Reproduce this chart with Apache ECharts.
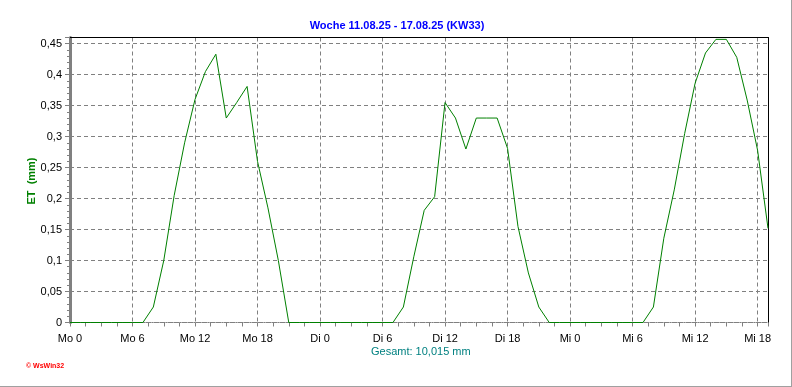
<!DOCTYPE html>
<html>
<head>
<meta charset="utf-8">
<script src="https://cdn.jsdelivr.net/npm/echarts@6/dist/echarts.min.js"></script>
<style>
html,body{margin:0;padding:0;background:#fff;}
#c{width:792px;height:387px;}
</style>
</head>
<body>
<div id="c"></div>
<script>
// Hours since Monday 0:00
var hours = [0,1,2,3,4,5,6,7,8,9,10,11,12,13,14,15,16,17,18,19,20,21,22,23,
  24,25,26,27,28,29,30,31,32,33,34,35,36,37,38,39,40,41,42,43,44,45,46,47,
  48,49,50,51,52,53,54,55,56,57,58,59,60,61,62,63,64,65,66,67];
// ET values (mm)
var etValues = [0,0,0,0,0,0,0,0,0.025,0.1,0.205,0.29,0.36,0.405,0.433,0.33,0.355,0.381,0.26,0.185,0.1,0,0,0,
  0,0,0,0,0,0,0,0,0.025,0.106,0.181,0.203,0.355,0.33,0.28,0.33,0.33,0.33,0.281,0.155,0.08,0.025,0,0,
  0,0,0,0,0,0,0,0,0.025,0.136,0.214,0.305,0.386,0.435,0.457,0.457,0.428,0.359,0.278,0.152];
var dayNames = ['Mo','Di','Mi','Do','Fr','Sa','So'];
var titleText = 'Woche 11.08.25 - 17.08.25 (KW33)';
var totalText = 'Gesamt: 10,015 mm';
var yAxisTitle = 'ET  (mm)';

var data = hours.map(function(h,i){ return [h, etValues[i]]; });
var FONT = '"Liberation Sans", Arial, sans-serif';

var chart = echarts.init(document.getElementById('c'));
chart.setOption({
  animation:false,
  backgroundColor:'#ffffff',
  title:{
    text:titleText, left:392, top:15, textAlign:'center',
    textStyle:{color:'#0000ff', fontSize:11, fontWeight:'bold', fontFamily:FONT}
  },
  grid:{left:70, right:24, top:37.5, bottom:64.5},
  xAxis:[{
    type:'value', min:0, max:67, interval:6,
    axisLine:{show:true, lineStyle:{color:'#808080', width:1, type:'dotted'}},
    axisTick:{show:true, length:4, lineStyle:{color:'#808080'}},
    minorTick:{show:true, splitNumber:4, length:4, lineStyle:{color:'#808080'}},
    splitLine:{show:true, lineStyle:{color:'#808080', type:[4,3], width:1}},
    axisLabel:{
      color:'#000', fontSize:11, fontFamily:FONT, margin:11,
      formatter:function(v){
        if (v % 6 !== 0) return '';
        return dayNames[Math.floor(v/24)] + ' ' + (v % 24);
      }
    }
  },{
    type:'value', min:0, max:67, position:'top',
    axisLine:{show:true, onZero:false, lineStyle:{color:'#000', width:1}},
    axisTick:{show:false}, axisLabel:{show:false}, splitLine:{show:false}
  }],
  yAxis:[{
    type:'value', min:0, max:0.46, interval:0.05,
    axisLine:{show:true, lineStyle:{color:'#808080', width:3}},
    axisTick:{show:true, length:5, lineStyle:{color:'#808080'}},
    minorTick:{show:true, splitNumber:5, length:3, lineStyle:{color:'#808080'}},
    splitLine:{show:true, lineStyle:{color:'#808080', type:[4,3], width:1}},
    axisLabel:{
      color:'#000', fontSize:11, fontFamily:FONT, margin:8,
      formatter:function(v){
        var r = Math.round(v*100);
        if (r % 5 !== 0) return '';
        return String(r/100).replace('.', ',');
      }
    }
  },{
    type:'value', min:0, max:0.46, position:'right',
    axisLine:{show:true, onZero:false, lineStyle:{color:'#000', width:1}},
    axisTick:{show:false}, axisLabel:{show:false}, splitLine:{show:false}
  }],
  series:[{
    type:'line', data:data, showSymbol:false, clip:false,
    lineStyle:{color:'#008000', width:1},
    z:5
  }],
  graphic:[
    {type:'text', x:32, y:181, rotation:Math.PI/2,
      style:{text:yAxisTitle, fill:'#008000', font:'bold 11px ' + FONT, align:'center', verticalAlign:'middle'}},
    {type:'text', left:371, top:346, style:{text:totalText, fill:'#008080', font:'11px ' + FONT}},
    {type:'text', left:26, top:363, style:{text:'\u00a9 WsWin32', fill:'#ff0000', font:'bold 7px ' + FONT}},
    {type:'line', shape:{x1:791.5, y1:0, x2:791.5, y2:387}, style:{stroke:'#a0a0a0', lineWidth:1}},
    {type:'line', shape:{x1:0, y1:386.5, x2:792, y2:386.5}, style:{stroke:'#a0a0a0', lineWidth:1}}
  ]
});
</script>
</body>
</html>
